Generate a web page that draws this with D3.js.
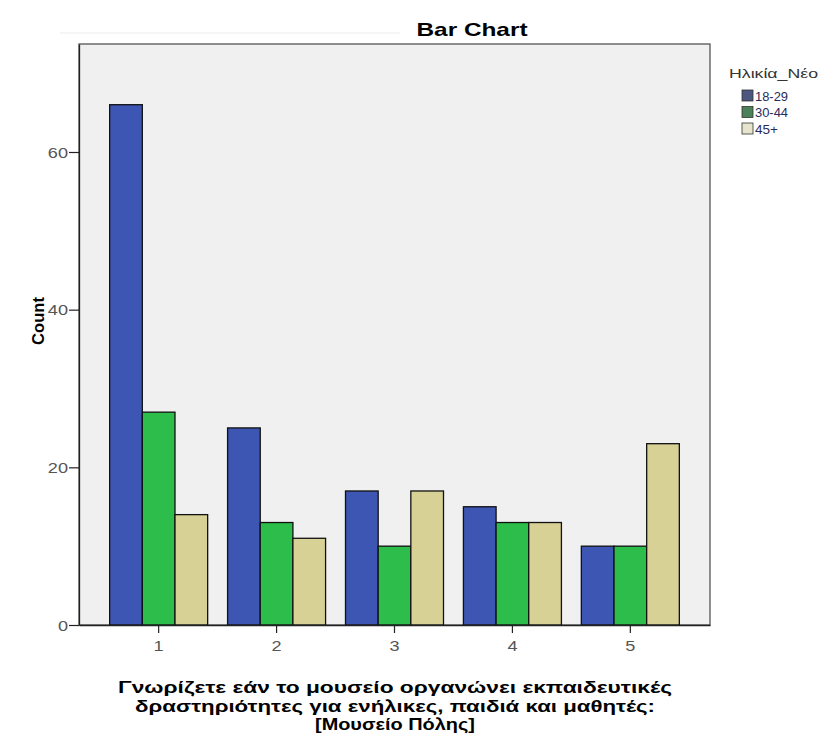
<!DOCTYPE html>
<html>
<head>
<meta charset="utf-8">
<script src="https://cdn.jsdelivr.net/npm/d3@7"></script>
<style>
  html, body { margin: 0; padding: 0; background: #ffffff; }
  svg { display: block; font-family: "Liberation Sans", Arial, sans-serif; }
</style>
</head>
<body>
<svg id="chart" width="822" height="739"></svg>
<script>
const categories = ["1", "2", "3", "4", "5"];
const seriesNames = ["18-29", "30-44", "45+"];
const values18_29 = [66, 25, 17, 15, 10];
const values30_44 = [27, 13, 10, 13, 10];
const values45plus = [14, 11, 17, 13, 23];
const yTicks = [0, 20, 40, 60];
const chartTitle = "Bar Chart";
const legendTitle = "Ηλικία_Νέο";
const yTitle = "Count";
const xTitleLines = [
  "Γνωρίζετε εάν το μουσείο οργανώνει εκπαιδευτικές",
  "δραστηριότητες για ενήλικες, παιδιά και μαθητές:",
  "[Μουσείο Πόλης]"
];

const seriesValues = [values18_29, values30_44, values45plus];
const barColors = ["#3d56b3", "#2cbd4a", "#d8d196"];
const swatchColors = ["#4c567e", "#4b8058", "#e6e4cc"];

const svg = d3.select("#chart");
const plot = { left: 79, top: 44, right: 710, bottom: 625 };

function stretch(sel, factor) {
  sel.each(function () {
    const w = this.getComputedTextLength();
    this.setAttribute("textLength", w * factor);
    this.setAttribute("lengthAdjust", "spacingAndGlyphs");
  });
}
function fitTo(sel, width) {
  sel.attr("textLength", width).attr("lengthAdjust", "spacingAndGlyphs");
}

const x = d3.scaleBand().domain(categories)
  .range([plot.left, plot.right]).paddingInner(0.169).paddingOuter(0.26);
const xs = d3.scaleBand().domain(seriesNames).range([0, x.bandwidth()]).padding(0);
const y = d3.scaleLinear().domain([0, 73.7]).range([plot.bottom, plot.top]);

svg.append("line").attr("x1", 60).attr("x2", 400).attr("y1", 33).attr("y2", 33)
  .attr("stroke", "#ececec").attr("stroke-width", 1);

svg.append("rect")
  .attr("x", plot.left).attr("y", plot.top)
  .attr("width", plot.right - plot.left).attr("height", plot.bottom - plot.top)
  .attr("fill", "#f0f0f0").attr("stroke", "#555").attr("stroke-width", 1.3);

const rows = [];
categories.forEach((c, i) => {
  seriesNames.forEach((s, j) => rows.push({ c, s, j, v: seriesValues[j][i] }));
});
svg.append("g").selectAll("rect").data(rows).join("rect")
  .attr("x", d => x(d.c) + xs(d.s))
  .attr("y", d => y(d.v))
  .attr("width", xs.bandwidth())
  .attr("height", d => y(0) - y(d.v))
  .attr("fill", d => barColors[d.j])
  .attr("stroke", "#111")
  .attr("stroke-width", 1.3);

const yAxis = svg.append("g").attr("transform", `translate(${plot.left},0)`)
  .call(d3.axisLeft(y).tickValues(yTicks).tickSize(10).tickSizeOuter(0).tickPadding(1));
yAxis.select(".domain").attr("stroke", "#222").attr("stroke-width", 1.3);
yAxis.selectAll(".tick line").attr("stroke", "#222").attr("stroke-width", 1.2);
yAxis.selectAll(".tick text").attr("fill", "#555").attr("font-size", 14.5)
  .attr("font-family", "'Liberation Sans', Arial, sans-serif").attr("dy", "0.35em")
  .call(stretch, 1.25);

const xAxis = svg.append("g").attr("transform", `translate(0,${plot.bottom})`)
  .call(d3.axisBottom(x).tickSize(8).tickSizeOuter(0).tickPadding(8));
xAxis.select(".domain").attr("stroke", "#222").attr("stroke-width", 1.3);
xAxis.selectAll(".tick line").attr("stroke", "#222").attr("stroke-width", 1.2);
xAxis.selectAll(".tick text").attr("fill", "#555").attr("font-size", 14.5)
  .attr("font-family", "'Liberation Sans', Arial, sans-serif")
  .call(stretch, 1.25);

svg.append("text").attr("x", 472).attr("y", 36)
  .attr("text-anchor", "middle").attr("font-weight", "bold").attr("font-size", 19)
  .attr("fill", "#000").text(chartTitle).call(fitTo, 111);

svg.append("text")
  .attr("transform", `translate(44,321) rotate(-90)`)
  .attr("text-anchor", "middle").attr("font-weight", "bold").attr("font-size", 17)
  .attr("fill", "#000").text(yTitle).call(fitTo, 48);

const xTitleWidths = [554, 520, 160];
xTitleLines.forEach((line, i) => {
  svg.append("text").attr("text-anchor", "middle")
    .attr("font-weight", "bold").attr("font-size", 16.3).attr("fill", "#000")
    .attr("x", 395).attr("y", 693 + i * 18.5).text(line)
    .call(fitTo, xTitleWidths[i]);
});

const lg = svg.append("g");
lg.append("text").attr("x", 729).attr("y", 78).attr("font-size", 13.5)
  .attr("fill", "#333").text(legendTitle).call(fitTo, 89);
const legendLabelWidths = [33, 33, 23];
seriesNames.forEach((s, j) => {
  const yy = 90 + j * 16.5;
  lg.append("rect").attr("x", 742).attr("y", yy).attr("width", 11).attr("height", 11)
    .attr("fill", swatchColors[j]).attr("stroke", "#333").attr("stroke-width", 0.8);
  lg.append("text").attr("x", 755).attr("y", yy + 10.5).attr("font-size", 13.5)
    .attr("fill", "#2a2a5a").text(s).call(fitTo, legendLabelWidths[j]);
});
</script>
</body>
</html>
